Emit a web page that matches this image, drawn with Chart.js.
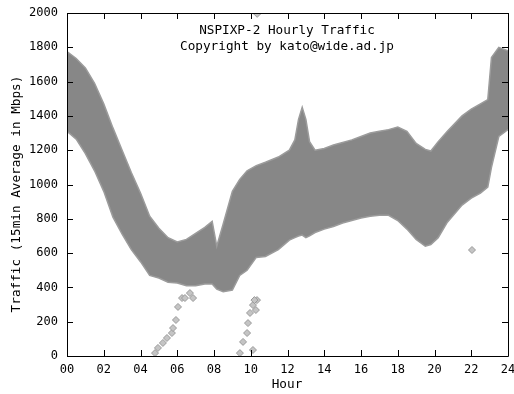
<!DOCTYPE html>
<html>
<head>
<meta charset="utf-8">
<script src="https://cdn.jsdelivr.net/npm/chart.js@4/dist/chart.umd.min.js"></script>
<style>
  html, body { margin: 0; padding: 0; background: #fff; }
  #wrap { width: 514px; height: 394px; }
</style>
</head>
<body>
<div id="wrap"><canvas id="traffic"></canvas></div>
<script>
// envelope of the dense 15min samples
const hours = [0, 0.5, 1, 1.5, 2, 2.5, 3, 3.5, 4, 4.5, 5, 5.5, 6, 6.5, 7, 7.5, 7.9, 8.15, 8.5, 9, 9.4, 9.8, 10.3, 10.8, 11.5, 12.1, 12.4, 12.6, 12.8, 13.0, 13.2, 13.5, 14, 14.5, 15, 15.5, 16, 16.5, 17, 17.5, 18, 18.5, 19, 19.5, 19.8, 20.2, 20.7, 21.5, 22, 22.5, 22.9, 23.1, 23.5, 24];
const upperTraffic = [1775, 1735, 1680, 1590, 1470, 1330, 1200, 1070, 950, 815, 745, 690, 665, 680, 715, 750, 785, 640, 770, 960, 1030, 1080, 1110, 1130, 1160, 1200, 1260, 1380, 1450, 1380, 1250, 1200, 1210, 1230, 1245, 1260, 1280, 1300, 1310, 1320, 1335, 1310, 1240, 1205, 1195, 1250, 1310, 1400, 1440, 1470, 1495, 1740, 1800, 1780];
const lowerTraffic = [1310, 1265, 1180, 1080, 960, 810, 710, 620, 550, 470, 455, 430, 425, 410, 410, 420, 420, 390, 375, 385, 470, 500, 575, 580, 620, 676, 690, 700, 705, 690, 700, 720, 740, 755, 775, 790, 805, 815, 820, 820, 790, 740, 680, 640, 650, 690, 780, 880, 920, 950, 985, 1100, 1280, 1320];

// stray samples
const outlierHours = [4.79, 4.95, 5.22, 5.44, 5.71, 5.77, 5.93, 6.04, 6.26, 6.42, 6.69, 6.86, 9.41, 9.58, 9.8, 9.85, 9.96, 10.12, 10.34, 10.12, 10.2, 10.28, 22.04, 10.35];
const outlierTraffic = [17, 47, 76, 105, 134, 163, 210, 286, 338, 338, 367, 338, 17, 82, 134, 192, 251, 297, 326, 35, 326, 268, 618, 1995];

const xTicks = [0, 2, 4, 6, 8, 10, 12, 14, 16, 18, 20, 22, 24];
const yTicks = [0, 200, 400, 600, 800, 1000, 1200, 1400, 1600, 1800, 2000];

const titleLines = ["NSPIXP-2 Hourly Traffic", "Copyright by kato@wide.ad.jp"];
const xTitle = "Hour";
const yTitle = "Traffic (15min Average in Mbps)";

const mono = "'DejaVu Sans Mono', monospace";
const font = { family: mono, size: 12 };
const gray = "#878787";

// frame, inward ticks, titles
const framePlugin = {
  id: "frame",
  afterDraw(chart) {
    const ctx = chart.ctx;
    const a = chart.chartArea;
    const sx = chart.scales.x;
    const sy = chart.scales.y;
    ctx.save();
    ctx.strokeStyle = "#000";
    ctx.lineWidth = 1;
    ctx.beginPath();
    ctx.rect(Math.round(a.left) + 0.5, Math.round(a.top) + 0.5,
      Math.round(a.right - a.left), Math.round(a.bottom - a.top));
    xTicks.forEach((v) => {
      const px = Math.round(sx.getPixelForValue(v)) + 0.5;
      ctx.moveTo(px, a.bottom); ctx.lineTo(px, a.bottom - 6);
      ctx.moveTo(px, a.top); ctx.lineTo(px, a.top + 6);
    });
    yTicks.forEach((v) => {
      const py = Math.round(sy.getPixelForValue(v)) + 0.5;
      ctx.moveTo(a.left, py); ctx.lineTo(a.left + 6, py);
      ctx.moveTo(a.right, py); ctx.lineTo(a.right - 6, py);
    });
    ctx.stroke();

    ctx.fillStyle = "#000";
    ctx.font = "12.7px " + mono;
    ctx.textAlign = "center";
    ctx.textBaseline = "middle";
    ctx.fillText(titleLines[0], 287, 31);
    ctx.fillText(titleLines[1], 287, 47);
    ctx.fillText(xTitle, 287, 385);
    ctx.translate(17, 194);
    ctx.rotate(-Math.PI / 2);
    ctx.fillText(yTitle, 0, 0);
    ctx.restore();
  }
};

const ctx = document.getElementById("traffic").getContext("2d");
new Chart(ctx, {
  type: "line",
  data: {
    datasets: [
      {
        label: "outliers",
        type: "scatter",
        data: outlierHours.map((h, i) => ({ x: h, y: outlierTraffic[i] })),
        pointStyle: "rectRot",
        pointRadius: 3.5,
        backgroundColor: "#c4c4c4",
        borderColor: "#9a9a9a",
        borderWidth: 1,
      },
      {
        label: "low",
        data: hours.map((h, i) => ({ x: h, y: lowerTraffic[i] })),
        borderColor: "#9c9c9c",
        borderWidth: 1.5,
        pointRadius: 0,
        fill: false,
        tension: 0,
      },
      {
        label: "high",
        data: hours.map((h, i) => ({ x: h, y: upperTraffic[i] })),
        borderColor: "#9c9c9c",
        backgroundColor: gray,
        borderWidth: 1.5,
        pointRadius: 0,
        fill: "-1",
        tension: 0,
      },
    ],
  },
  options: {
    responsive: true,
    maintainAspectRatio: false,
    animation: false,
    layout: { padding: { top: 13, right: 6, left: 0, bottom: 0 } },
    plugins: {
      legend: { display: false },
      tooltip: { enabled: false },
    },
    scales: {
      x: {
        type: "linear",
        min: 0,
        max: 24,
        grid: { display: false, drawTicks: false },
        border: { display: false },
        afterBuildTicks: (scale) => {
          scale.ticks = xTicks.map((v) => ({ value: v }));
        },
        afterFit: (scale) => {
          scale.height = 38;
          scale.paddingLeft = 0;
          scale.paddingRight = 0;
        },
        ticks: {
          color: "#000",
          font: font,
          padding: 7,
          maxRotation: 0,
          callback: (v) => String(v).padStart(2, "0"),
        },
      },
      y: {
        min: 0,
        max: 2000,
        grid: { display: false, drawTicks: false },
        border: { display: false },
        afterBuildTicks: (scale) => {
          scale.ticks = yTicks.map((v) => ({ value: v }));
        },
        afterFit: (scale) => {
          scale.width = 67;
          scale.paddingTop = 0;
          scale.paddingBottom = 0;
        },
        ticks: {
          color: "#000",
          font: font,
          padding: 9,
          callback: (v) => String(v),
        },
      },
    },
  },
  plugins: [framePlugin],
});
</script>
</body>
</html>
